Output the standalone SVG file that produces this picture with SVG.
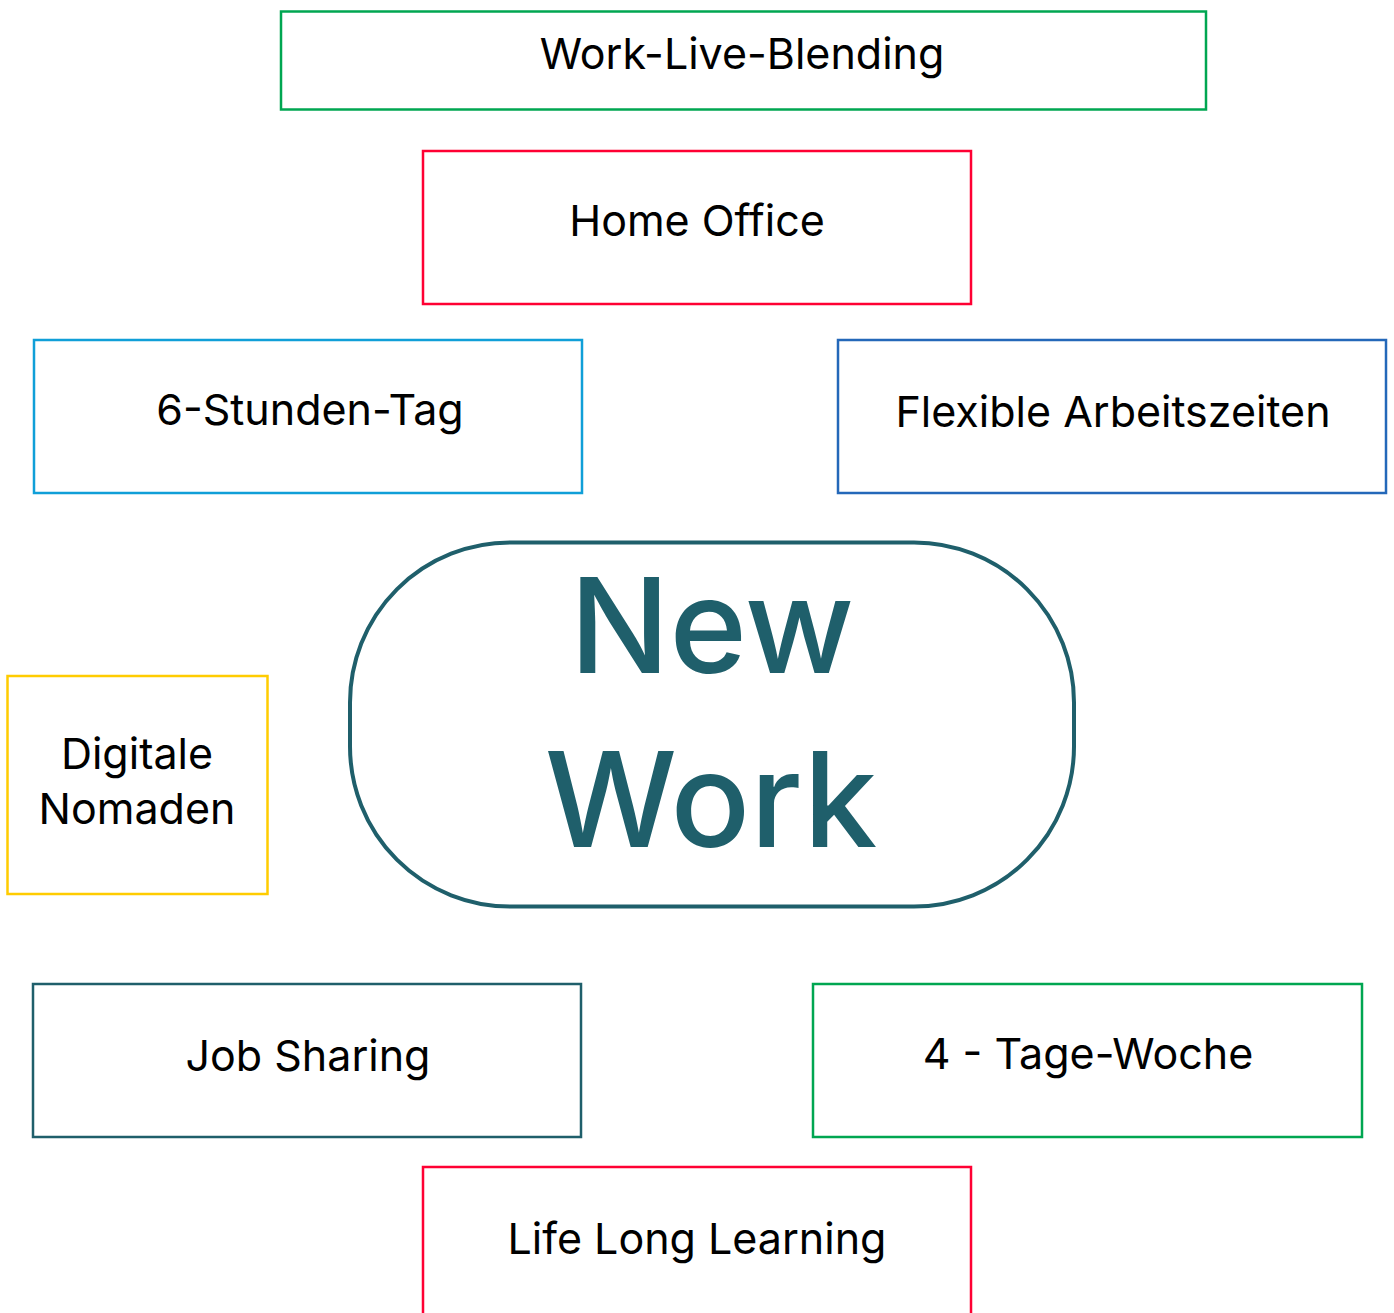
<svg xmlns="http://www.w3.org/2000/svg" width="1394" height="1313" viewBox="0 0 1394 1313">
<style>
.box{fill:#ffffff;stroke-width:2.5}
.lbl{font-family:Inter,"Noto Sans","Liberation Sans",sans-serif;font-size:43px;fill:#000000;text-anchor:middle}
.big{font-family:Inter,"Noto Sans","Liberation Sans",sans-serif;font-size:132px;font-weight:500;fill:#1f5f6b;text-anchor:middle}
</style>
<rect width="1394" height="1313" fill="#ffffff"/>
<g id="connectors"></g>
<g id="work-live-blending">
<rect class="box" x="281" y="11.5" width="925" height="98" stroke="#00a651"/>
<text class="lbl" x="742" y="69">Work-Live-Blending</text>
</g>
<g id="home-office">
<rect class="box" x="423" y="151" width="548" height="153" stroke="#ff0033"/>
<text class="lbl" x="697" y="236">Home Office</text>
</g>
<g id="six-stunden-tag">
<rect class="box" x="34" y="340" width="548" height="153" stroke="#109fd8"/>
<text class="lbl" x="310" y="425">6-Stunden-Tag</text>
</g>
<g id="flexible-arbeitszeiten">
<rect class="box" x="838" y="340" width="548" height="153" stroke="#2468b9"/>
<text class="lbl" x="1113" y="427">Flexible Arbeitszeiten</text>
</g>
<g id="digitale-nomaden">
<rect class="box" x="7.5" y="676" width="260" height="218" stroke="#ffcc00"/>
<text class="lbl" x="137" y="769">Digitale</text>
<text class="lbl" x="137" y="824">Nomaden</text>
</g>
<g id="new-work">
<rect x="350" y="542.5" width="724" height="364" rx="160" ry="160" fill="#ffffff" stroke="#1f5f6b" stroke-width="4"/>
<text class="big" x="712" y="673">New</text>
<text class="big" x="711" y="847">Work</text>
</g>
<g id="job-sharing">
<rect class="box" x="33" y="984" width="548" height="153" stroke="#1f5f6b"/>
<text class="lbl" x="308" y="1071">Job Sharing</text>
</g>
<g id="vier-tage-woche">
<rect class="box" x="813" y="984" width="549" height="153" stroke="#00a651"/>
<text class="lbl" x="1088" y="1069">4 - Tage-Woche</text>
</g>
<g id="life-long-learning">
<rect class="box" x="423" y="1167" width="548" height="153" stroke="#ff0033"/>
<text class="lbl" x="697" y="1254">Life Long Learning</text>
</g>
</svg>
